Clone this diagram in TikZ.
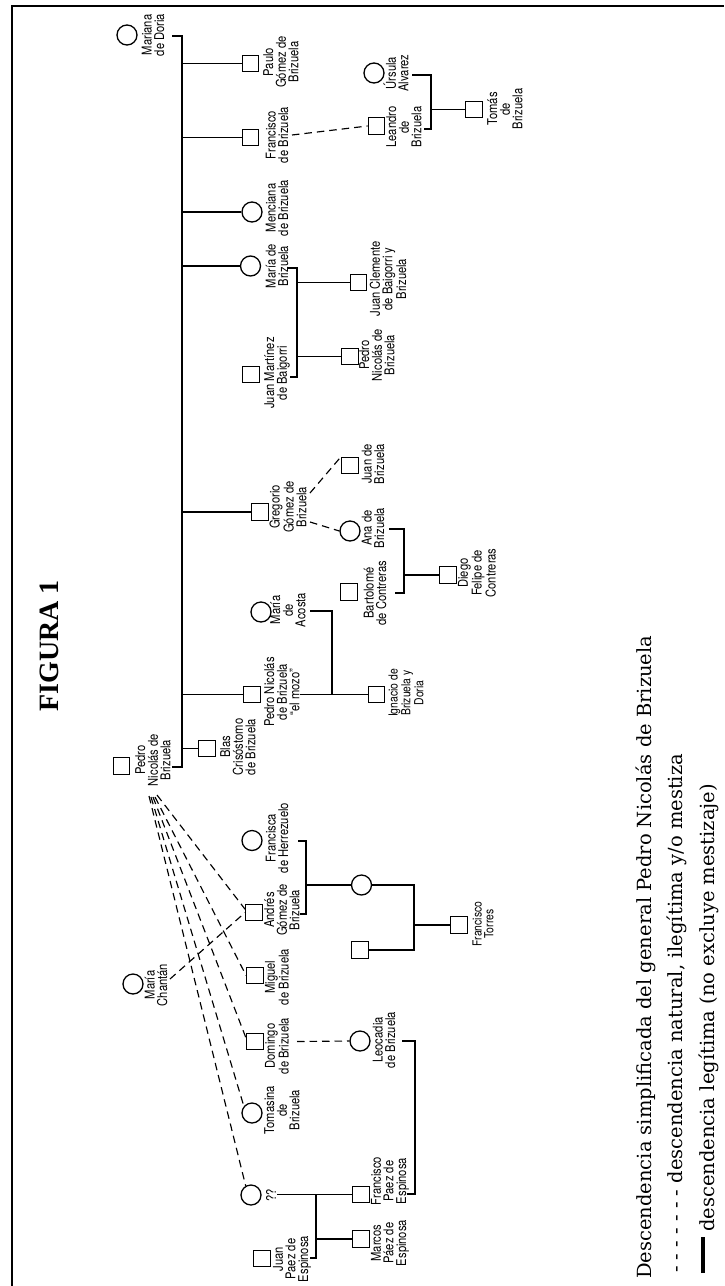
\documentclass[tikz,border=0pt]{standalone}
\usepackage{fontspec}
\newfontfamily\labfont[FakeStretch=0.83]{TeX Gyre Heros}
\newfontfamily\legfont{DejaVu Serif}
\newfontfamily\titfont{Liberation Serif}
\begin{document}
\begin{tikzpicture}[x=1pt,y=-1pt,
  sq/.style={draw, rectangle, line width=1.3pt, minimum size=16.5pt, inner sep=0pt},
  ci/.style={draw, circle, line width=1.3pt, minimum size=20pt, inner sep=0pt},
  lab/.style={rotate=90, align=center, inner sep=0pt, font=\labfont\fontsize{13.5}{12.6}\selectfont},
  labs/.style={lab, font=\labfont\fontsize{12.5}{11.8}\selectfont},
  rel/.style={line width=1.25pt},
  nat/.style={line width=1.15pt, dash pattern=on 7.5pt off 5pt},
  leg/.style={rotate=90, anchor=base west, inner sep=0pt, font=\legfont\fontsize{19.5}{19.5}\selectfont}]
\useasboundingbox (0,0) rectangle (724,1286);
% frame
\draw[line width=2pt] (12,1286) -- (12,6) -- (724,6);
% title
\node[rotate=90, inner sep=0pt, font=\titfont\bfseries\fontsize{28}{28}\selectfont] (title) at (49,646) {FIGURA 1};

% ---------- people ----------
\node[sq] (pedro) at (121.5,766) {};
\node[lab] (lpedro) at (153,760) {Pedro\\Nicolás de\\Brizuela};
\node[ci] (mdoria) at (127,35) {};
\node[lab] (lmdoria) at (153,35) {Mariana\\de Doria};

\node[sq] (paulo) at (250.5,63.5) {};
\node[lab] (lpaulo) at (281,62) {Paulo\\Gómez de\\Brizuela};
\node[sq] (francisco) at (250.5,137.5) {};
\node[lab] (lfrancisco) at (277,135) {Francisco\\de Brizuela};
\node[ci] (menciana) at (252,212) {};
\node[lab] (lmenciana) at (277,208) {Menciana\\de Brizuela};
\node[ci] (mariab) at (250.5,266) {};
\node[lab] (lmariab) at (277,266) {María de\\Brizuela};
\node[sq] (gregorio) at (260,512) {};
\node[lab] (lgregorio) at (288,507) {Gregorio\\Gómez de\\Brizuela};
\node[sq] (mozo) at (252,694.5) {};
\node[lab] (lmozo) at (282,692) {Pedro Nicolás\\de Brizuela\\“el mozo”};
\node[sq] (blas) at (207,748.5) {};
\node[lab] (lblas) at (238,747) {Blas\\Crisóstomo\\de Brizuela};

\node[sq] (leandro) at (376.5,126) {};
\node[lab] (lleandro) at (404,127) {Leandro\\de\\Brizuela};
\node[ci] (ursula) at (374,73) {};
\node[lab] (lursula) at (396,73) {Úrsula\\Alvarez};
\node[sq] (tomas) at (474,109.5) {};
\node[lab] (ltomas) at (505,109) {Tomás\\de\\Brizuela};

\node[sq] (juanc) at (358.5,282.5) {};
\node[lab] (ljuanc) at (388,279) {Juan Clemente\\de Baigorri y\\Brizuela};
\node[sq] (pedron) at (350,356.5) {};
\node[lab] (lpedron) at (377,355) {Pedro\\Nicolás de\\Brizuela};
\node[sq] (juanm) at (251,374.5) {};
\node[lab] (ljuanm) at (277,373) {Juan Martínez\\de Baigorri};

\node[sq] (juanb) at (350,465.5) {};
\node[lab] (ljuanb) at (373,464) {Juan de\\Brizuela};
\node[ci] (ana) at (350,531) {};
\node[lab] (lana) at (373,528) {Ana de\\Brizuela};
\node[sq] (diego) at (448,575) {};
\node[lab] (ldiego) at (477,573) {Diego\\Felipe de\\Contreras};
\node[sq] (bartolome) at (349,592) {};
\node[lab] (lbartolome) at (375,593) {Bartolomé\\de Contreras};

\node[ci] (acosta) at (261,612) {};
\node[lab] (lacosta) at (288,610) {María\\de\\Acosta};
\node[sq] (ignacio) at (376.5,694.5) {};
\node[labs] (lignacio) at (406,693) {Ignacio de\\Brizuela y\\Doria};

\node[sq] (andres) at (254,912.5) {};
\node[lab] (landres) at (282,910) {Andrés\\Gómez de\\Brizuela};
\node[ci] (francisca) at (252,840.5) {};
\node[lab] (lfrancisca) at (277,838) {Francisca\\de Herrezuelo};
\node[ci] (ccirc) at (361.5,885) {};
\node[sq] (usq) at (360,950) {};
\node[sq] (torres) at (459,925) {};
\node[labs] (ltorres) at (483,924) {Francisco\\Torres};

\node[ci] (chantan) at (133,984) {};
\node[lab] (lchantan) at (156,985) {María\\Chantán};
\node[sq] (miguel) at (255,975.5) {};
\node[lab] (lmiguel) at (277,977) {Miguel\\de Brizuela};
\node[sq] (domingo) at (255,1041.5) {};
\node[lab] (ldomingo) at (277,1046) {Domingo\\de Brizuela};
\node[ci] (leocadia) at (360,1041) {};
\node[lab] (lleocadia) at (384,1040) {Leocadia\\de Brizuela};
\node[ci] (tomasina) at (252,1113) {};
\node[lab] (ltomasina) at (282,1110) {Tomasina\\de\\Brizuela};
\node[ci] (qq) at (251,1195) {};
\node[lab] (lqq) at (271,1195) {??};
\node[sq] (fpaez) at (361,1194.5) {};
\node[lab] (lfpaez) at (390,1181) {Francisco\\Paez de\\Espinosa};
\node[sq] (marcos) at (361,1239) {};
\node[lab] (lmarcos) at (390,1243) {Marcos\\Páez de\\Espinosa};
\node[sq] (juanp) at (262,1258.5) {};
\node[lab] (ljuanp) at (292,1259) {Juan\\Paez de\\Espinosa};

% ---------- connectors ----------
\coordinate (mdEnd) at (172,36);
\coordinate (trTop) at (182,36);
\coordinate (trBot) at (182,767);
\coordinate (pdEnd) at (172,767);
\draw[rel] (mdEnd) -- (trTop) -- (trBot) -- (pdEnd);
\foreach \c in {paulo,francisco,menciana,mariab,gregorio,mozo,blas}
  \draw[rel] (\c.west -| trTop) -- (\c.west);

\coordinate (frEnd) at (292,135);
\draw[nat] (frEnd) -- (leandro.west);
\coordinate (urEnd) at (412,75);
\coordinate (urTop) at (431,75);
\coordinate (urBot) at (431,129);
\coordinate (leEnd) at (424,129);
\draw[rel] (urEnd) -- (urTop) -- (urBot) -- (leEnd);
\draw[rel] (tomas.west -| urTop) -- (tomas.west);

\coordinate (mbEnd) at (287,268);
\coordinate (mbTop) at (297,268);
\coordinate (mbBot) at (297,377);
\coordinate (jmEnd) at (290,377);
\draw[rel] (mbEnd) -- (mbTop) -- (mbBot) -- (jmEnd);
\draw[rel] (juanc.west -| mbTop) -- (juanc.west);
\draw[rel] (pedron.west -| mbTop) -- (pedron.west);

\coordinate (grEndA) at (310,493);
\coordinate (grEndB) at (310,522);
\draw[nat] (grEndA) -- (juanb.north west);
\draw[nat] (grEndB) -- (ana.west);
\coordinate (anEnd) at (389,529);
\coordinate (anTop) at (404,529);
\coordinate (anBot) at (404,593);
\coordinate (baEnd) at (395,593);
\draw[rel] (anEnd) -- (anTop) -- (anBot) -- (baEnd);
\draw[rel] (diego.west -| anTop) -- (diego.west);

\coordinate (acEnd) at (310,611);
\coordinate (acTop) at (332,611);
\coordinate (acBot) at (332,694.5);
\coordinate (mzEnd) at (300,694.5);
\draw[rel] (acEnd) -- (acTop) -- (acBot);
\draw[rel] (mzEnd) -- (ignacio.west);

\coordinate (fhEnd) at (298,841);
\coordinate (fhTop) at (306,841);
\coordinate (fhBot) at (306,914);
\coordinate (adEnd) at (300,914);
\draw[rel] (fhEnd) -- (fhTop) -- (fhBot) -- (adEnd);
\draw[rel] (ccirc.west -| fhTop) -- (ccirc.west);
\coordinate (tTop) at (414,885);
\coordinate (tBot) at (414,950);
\draw[rel] (ccirc.east) -- (tTop) -- (tBot) -- (usq.east);
\draw[rel] (torres.west -| tTop) -- (torres.west);

\coordinate (chEnd) at (170,979);
\draw[nat] (chEnd) -- (andres.west);
\coordinate (p1) at (157,795);
\coordinate (p2) at (155,797);
\coordinate (p3) at (153,797);
\coordinate (p4) at (151,797);
\coordinate (p5) at (149,796);
\draw[nat] (p1) -- (andres.160);
\draw[nat] (p2) -- (miguel.west);
\draw[nat] (p3) -- (domingo.160);
\draw[nat] (p4) -- (tomasina.140);
\draw[nat] (p5) -- (qq.120);

\coordinate (doEnd) at (297,1041.5);
\draw[nat] (doEnd) -- (leocadia.west);
\coordinate (leoEnd) at (402,1041);
\coordinate (leoTop) at (415,1041);
\coordinate (leoBot) at (415,1194);
\coordinate (fpEnd) at (407,1194);
\draw[rel] (leoEnd) -- (leoTop) -- (leoBot) -- (fpEnd);

\coordinate (qqEnd) at (277,1194.5);
\coordinate (qqTop) at (316,1194.5);
\coordinate (qqBot) at (316,1258);
\coordinate (jpEnd) at (310,1258);
\draw[rel] (qqEnd) -- (fpaez.west);
\draw[rel] (qqTop) -- (qqBot) -- (jpEnd);
\draw[rel] (marcos.west -| qqTop) -- (marcos.west);

% ---------- legend ----------
\node[leg] (leg1) at (651,1279) {Descendencia simplificada del general Pedro Nicolás de Brizuela};
\node[leg] (leg2) at (682,1273) {- - - - - - - descendencia natural, ilegítima y/o mestiza};
\coordinate (barA) at (703,1273);
\coordinate (barB) at (703,1237);
\draw[line width=4.5pt] (barA) -- (barB);
\node[leg] (leg3) at (714,1232) {descendencia legítima (no excluye mestizaje)};
\end{tikzpicture}
\end{document}
